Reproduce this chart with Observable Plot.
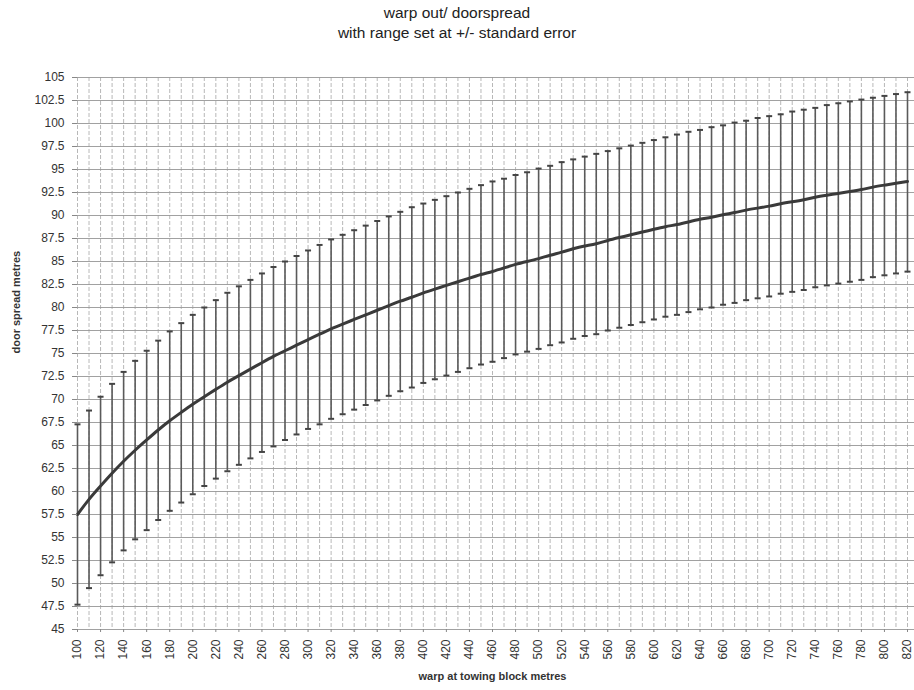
<!DOCTYPE html>
<html>
<head>
<meta charset="utf-8">
<script src="https://cdn.jsdelivr.net/npm/d3@7"></script>
<script src="https://cdn.jsdelivr.net/npm/@observablehq/plot@0.6"></script>
<style>
  html, body { margin: 0; padding: 0; background: #fff; }
  body { width: 914px; height: 690px; overflow: hidden; font-family: "Liberation Sans", Arial, sans-serif; }
  #title { height: 50px; box-sizing: border-box; padding-top: 3px; text-align: center; color: #222; font-size: 15.5px; line-height: 20px; }
  #chart svg { display: block; }
</style>
</head>
<body>
<div id="title">
  <div>warp out/ doorspread</div>
  <div>with range set at +/- standard error</div>
</div>
<div id="chart"></div>
<script>
// Warp at towing block (metres)
const warp = [100,110,120,130,140,150,160,170,180,190,200,210,220,230,240,250,260,270,280,290,
  300,310,320,330,340,350,360,370,380,390,400,410,420,430,440,450,460,470,480,490,
  500,510,520,530,540,550,560,570,580,590,600,610,620,630,640,650,660,670,680,690,
  700,710,720,730,740,750,760,770,780,790,800,810,820];

// Mean door spread (metres)
const meanSpread = [57.5,59.2,60.6,62.0,63.3,64.5,65.6,66.7,67.7,68.6,69.5,70.3,71.1,71.9,72.6,73.3,74.0,74.7,75.3,75.9,
  76.5,77.1,77.7,78.2,78.7,79.2,79.7,80.2,80.7,81.1,81.6,82.0,82.4,82.8,83.2,83.6,83.9,84.3,84.7,85.0,
  85.3,85.7,86.0,86.4,86.7,86.9,87.3,87.6,87.9,88.2,88.5,88.8,89.0,89.3,89.6,89.8,90.1,90.3,90.6,90.8,
  91.0,91.3,91.5,91.7,92.0,92.2,92.4,92.6,92.8,93.1,93.3,93.5,93.7];

// Upper end of the range (+ standard error)
const upperSpread = [67.3,68.8,70.3,71.7,73.0,74.2,75.3,76.4,77.4,78.3,79.2,80.0,80.8,81.6,82.3,83.0,83.7,84.4,85.0,85.6,
  86.2,86.8,87.4,87.9,88.4,88.9,89.4,89.9,90.4,90.9,91.3,91.7,92.1,92.5,92.9,93.3,93.7,94.0,94.4,94.7,
  95.1,95.4,95.8,96.1,96.4,96.7,97.0,97.3,97.6,97.9,98.2,98.5,98.8,99.1,99.3,99.6,99.8,100.1,100.3,100.6,
  100.8,101.0,101.3,101.5,101.7,102.0,102.2,102.4,102.6,102.8,103.0,103.2,103.4];

// Lower end of the range (- standard error)
const lowerSpread = [47.7,49.5,50.9,52.3,53.6,54.8,55.8,56.9,57.9,58.8,59.7,60.6,61.4,62.2,62.9,63.6,64.3,64.9,65.6,66.2,
  66.8,67.3,67.9,68.4,68.9,69.4,69.9,70.4,70.9,71.3,71.8,72.2,72.6,73.0,73.4,73.8,74.1,74.5,74.9,75.2,
  75.5,75.9,76.2,76.6,76.9,77.1,77.5,77.8,78.1,78.4,78.7,79.0,79.2,79.5,79.8,80.0,80.3,80.5,80.8,81.0,
  81.2,81.5,81.7,81.9,82.2,82.4,82.6,82.8,83.0,83.3,83.5,83.7,83.9];

// Axis tick values
const xTicks = [100,120,140,160,180,200,220,240,260,280,300,320,340,360,380,400,420,440,460,480,
  500,520,540,560,580,600,620,640,660,680,700,720,740,760,780,800,820];
const yTicks = [45,47.5,50,52.5,55,57.5,60,62.5,65,67.5,70,72.5,75,77.5,80,82.5,85,87.5,90,92.5,
  95,97.5,100,102.5,105];

const xTitle = "warp at towing block metres";
const yTitle = "door spread metres";

const rows = warp.map((w, i) => ({warp: w, mean: meanSpread[i], high: upperSpread[i], low: lowerSpread[i]}));

// Short horizontal cap drawn at each end of an error bar
const capSymbol = {
  draw(context, size) {
    const w = Math.sqrt(size / Math.PI);
    context.moveTo(-w, 0);
    context.lineTo(w, 0);
  }
};

const chart = Plot.plot({
  width: 914,
  height: 640,
  marginTop: 27,
  marginBottom: 61,
  marginLeft: 77,
  marginRight: 7,
  style: {fontFamily: "Liberation Sans, Arial, sans-serif", fontSize: "12px", color: "#333", background: "#fff"},
  x: {type: "linear", domain: [100, 820]},
  y: {domain: [45, 105]},
  marks: [
    // horizontal grid
    Plot.ruleY(yTicks, {stroke: "#8a8a8a", strokeWidth: 1, strokeOpacity: 0.8, insetRight: -7}),
    // vertical grid at every warp value
    Plot.ruleX(warp, {stroke: "#9a9a9a", strokeWidth: 1, strokeOpacity: 0.7, strokeDasharray: "4,2"}),
    // error bars
    Plot.ruleX(rows, {x: "warp", y1: "low", y2: "high", stroke: "#5a5a5a", strokeWidth: 1.6}),
    Plot.dot(rows, {x: "warp", y: "high", symbol: capSymbol, r: 3, stroke: "#444", strokeWidth: 2, fill: "none"}),
    Plot.dot(rows, {x: "warp", y: "low", symbol: capSymbol, r: 3, stroke: "#444", strokeWidth: 2, fill: "none"}),
    // mean curve, smoothed
    Plot.line(rows, {x: "warp", y: "mean", stroke: "#3a3a3a", strokeWidth: 3, curve: "basis"}),
    Plot.axisY(yTicks, {
      tickFormat: d => String(d),
      tickSize: 5,
      tickPadding: 8,
      stroke: "#888",
      fill: "#333",
      label: null
    }),
    Plot.axisX(xTicks, {
      tickFormat: d => String(d),
      tickRotate: -90,
      tickSize: 3,
      tickPadding: 7,
      stroke: "#888",
      fill: "#333",
      label: null
    }),
    // axis titles
    Plot.text([xTitle], {text: d => d, frameAnchor: "bottom", dy: 50, fontWeight: "bold", fontSize: 11, fill: "#333"}),
    Plot.text([yTitle], {text: d => d, frameAnchor: "left", dx: -61, rotate: -90, fontWeight: "bold", fontSize: 11, fill: "#333"})
  ]
});

document.getElementById("chart").appendChild(chart);
</script>
</body>
</html>
